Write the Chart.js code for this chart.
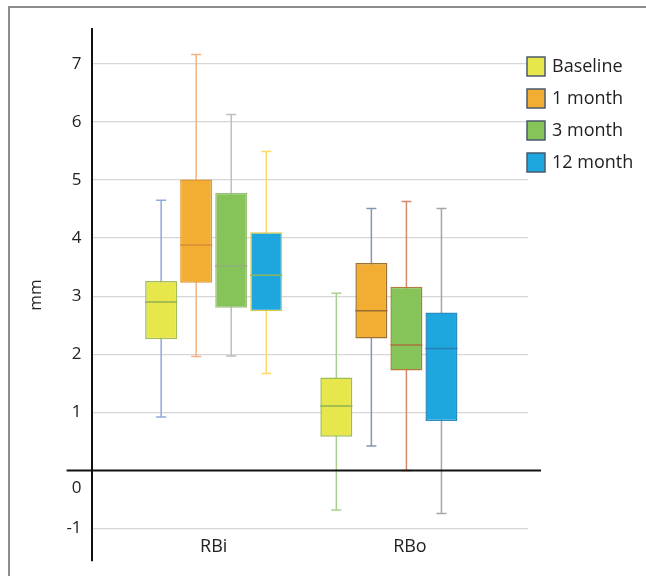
<!DOCTYPE html>
<html lang="en">

<head>
  <meta charset="UTF-8">
  <title>RBi / RBo box plot</title>
  <style>
    body { margin: 0; background: #fff; }
    #wrap { position: relative; width: 646px; height: 576px; overflow: hidden; }
    #frame { position: absolute; left: 8px; top: 6px; width: 700px; height: 700px;
      border-top: 2px solid #8c8c8c; border-left: 2px solid #8c8c8c; }
    #boxChart { position: absolute; left: 0; top: 0; }
  </style>
</head>

<body>
  <div id="wrap">
    <div id="frame"></div>
    <canvas id="boxChart" width="646" height="576"></canvas>
  </div>

  <script src="https://cdn.jsdelivr.net/npm/chart.js"></script>
  <script>
    // categories and series
    const groups = ['RBi', 'RBo'];
    const periods = ['Baseline', '1 month', '3 month', '12 month'];
    const yTicks = [-1, 0, 1, 2, 3, 4, 5, 6, 7];

    // five-number summaries, [period][group] (mm)
    const whiskerLow  = [[0.92, -0.68], [1.96, 0.42], [1.97, 0.00], [1.67, -0.74]];
    const q1          = [[2.26, 0.58], [3.23, 2.27], [2.80, 1.72], [2.74, 0.85]];
    const median      = [[2.90, 1.11], [3.88, 2.75], [3.52, 2.16], [3.36, 2.10]];
    const q3          = [[3.26, 1.60], [5.01, 3.57], [4.78, 3.16], [4.10, 2.72]];
    const whiskerHigh = [[4.65, 3.05], [7.16, 4.51], [6.13, 4.63], [5.49, 4.51]];

    // styles
    const fills = ['#e7e64a', '#f2ae33', '#86c45a', '#1ea7df'];
    const boxBorders = [['#a3bf5c', '#9cbc58'], ['#e3982f', '#9c7236'], ['#9cbf80', '#b57a3c'], ['#d9c84c', '#2b8cc2']];
    const medianColors = [['#8fb052', '#8fb052'], ['#dc8a38', '#9c6c30'], ['#8fae80', '#a8743e'], ['#8ab85a', '#2a7fb0']];
    const whiskerColors = [['#8eaadb', '#a9d18e'], ['#f4b183', '#8497b0'], ['#bfbfbf', '#d48a6a'], ['#ffd966', '#a6a6a6']];
    const FONT = '"Open Sans", sans-serif';

    const boxPlot = {
      id: 'boxPlot',
      beforeDatasetsDraw(chart) {
        const { ctx, scales: { y } } = chart;
        chart.data.datasets.forEach((ds, d) => {
          chart.getDatasetMeta(d).data.forEach((bar, i) => {
            const lo = y.getPixelForValue(whiskerLow[d][i]);
            const hi = y.getPixelForValue(whiskerHigh[d][i]);
            ctx.save();
            ctx.strokeStyle = whiskerColors[d][i];
            ctx.lineWidth = 1.5;
            ctx.beginPath();
            ctx.moveTo(bar.x, lo); ctx.lineTo(bar.x, hi);
            ctx.moveTo(bar.x - 5, lo); ctx.lineTo(bar.x + 5, lo);
            ctx.moveTo(bar.x - 5, hi); ctx.lineTo(bar.x + 5, hi);
            ctx.stroke();
            ctx.restore();
          });
        });
      },
      afterDatasetsDraw(chart) {
        const { ctx, chartArea, scales: { y } } = chart;
        ctx.save();
        // medians
        chart.data.datasets.forEach((ds, d) => {
          chart.getDatasetMeta(d).data.forEach((bar, i) => {
            const m = y.getPixelForValue(median[d][i]);
            ctx.strokeStyle = medianColors[d][i];
            ctx.lineWidth = 1.5;
            ctx.beginPath();
            ctx.moveTo(bar.x - bar.width / 2, m);
            ctx.lineTo(bar.x + bar.width / 2, m);
            ctx.stroke();
          });
        });
        // horizontal axis at 0
        const y0 = y.getPixelForValue(0);
        ctx.strokeStyle = '#111';
        ctx.lineWidth = 2;
        ctx.beginPath();
        ctx.moveTo(chartArea.left - 25, y0);
        ctx.lineTo(chartArea.right + 13, y0);
        ctx.stroke();
        // the "0" label sits below the axis line
        ctx.fillStyle = '#222';
        ctx.font = '17px ' + FONT;
        ctx.textAlign = 'right';
        ctx.textBaseline = 'middle';
        ctx.fillText('0', chartArea.left - 10, y0 + 18);
        // legend
        ctx.font = '18px ' + FONT;
        ctx.textAlign = 'left';
        periods.forEach((p, d) => {
          const bx = chartArea.right - 1;
          const by = 57 + d * 32;
          ctx.fillStyle = fills[d];
          ctx.fillRect(bx, by, 18, 19);
          ctx.strokeStyle = '#4a5a6e';
          ctx.lineWidth = 1.5;
          ctx.strokeRect(bx, by, 18, 19);
          ctx.fillStyle = '#222';
          ctx.fillText(p, bx + 25, by + 10);
        });
        ctx.restore();
      }
    };

    const ctx = document.getElementById('boxChart').getContext('2d');
    new Chart(ctx, {
      type: 'bar',
      data: {
        datasets: periods.map((p, d) => ({
          label: p,
          data: groups.map((g, i) => ({ x: i, y: [q1[d][i], q3[d][i]] })),
          backgroundColor: fills[d],
          borderColor: boxBorders[d],
          borderWidth: 1.5,
          borderSkipped: false,
          categoryPercentage: 0.8,
          barPercentage: 0.914
        }))
      },
      options: {
        responsive: false,
        animation: false,
        layout: { padding: { left: 10, top: 29, right: 118, bottom: 15 } },
        plugins: { legend: { display: false }, tooltip: { enabled: false } },
        scales: {
          x: {
            type: 'linear',
            offset: false,
            min: -0.697,
            max: 1.794,
            grid: { display: false },
            border: { display: false },
            afterBuildTicks: (scale) => { scale.ticks = [{ value: 0 }, { value: 1.12 }]; },
            ticks: {
              padding: -33,
              color: '#222',
              font: { family: FONT, size: 18 },
              callback: (v, i) => groups[i]
            }
          },
          y: {
            min: -1.56,
            max: 7.6,
            afterBuildTicks: (scale) => { scale.ticks = yTicks.map(v => ({ value: v })); },
            grid: {
              tickLength: 6,
              tickColor: 'rgba(0,0,0,0)',
              color: (c) => c.tick && c.tick.value === 0 ? 'rgba(0,0,0,0)' : '#d6d6d6',
              lineWidth: 1.3
            },
            border: { color: '#111', width: 2 },
            ticks: {
              padding: 4,
              color: '#222',
              font: { family: FONT, size: 17 },
              callback: (v) => v === 0 ? '' : v
            },
            title: {
              display: true,
              text: 'mm',
              color: '#222',
              font: { family: FONT, size: 17 },
              padding: { top: 16, bottom: 16 }
            }
          }
        }
      },
      plugins: [boxPlot]
    });
  </script>
</body>

</html>
